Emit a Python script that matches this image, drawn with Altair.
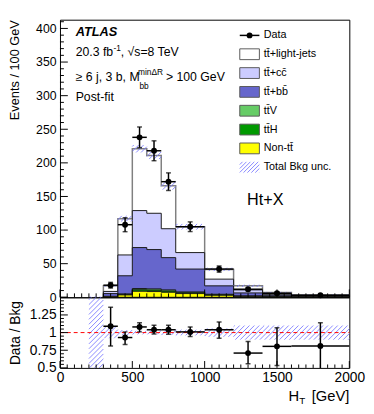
import math
import altair as alt
import pandas as pd

# ---------------- data (Events / 100 GeV) ----------------
bin_lo = [300, 400, 500, 600, 700, 800, 1000, 1200, 1400, 1600]
bin_hi = [400, 500, 600, 700, 800, 1000, 1200, 1400, 1600, 2000]
bin_center = [350, 450, 550, 650, 750, 900, 1100, 1300, 1500, 1800]

nontt   = [1.0, 3.5, 9.0, 8.5, 7.5, 5.5, 3.0, 1.3, 0.6, 0.3]
tth     = [0.2, 0.8, 2.2, 2.2, 1.8, 1.3, 0.8, 0.4, 0.2, 0.07]
ttv     = [0.2, 0.7, 1.8, 1.8, 1.7, 1.2, 0.7, 0.3, 0.2, 0.08]
ttbb    = [4.1, 27.0, 61.0, 58.5, 48.0, 34.0, 12.5, 4.5, 2.0, 0.85]
ttcc    = [3.2, 31.0, 55.0, 54.0, 43.0, 24.5, 10.0, 4.5, 1.5, 1.0]
ttlight = [8.3, 54.0, 92.0, 86.0, 64.0, 38.5, 14.5, 6.0, 2.8, 1.5]

data_val = [18, 108, 238, 218, 172, 105, 42, 12, 6, 3]
data_err = [4.2, 10.4, 15.4, 14.8, 13.1, 7.2, 4.6, 2.4, 1.7, 0.9]

ratio_val = [1.09, 0.93, 1.08, 1.04, 1.04, 1.01, 1.04, 0.71, 0.805, 0.81]
ratio_lo  = [0.81, 0.83, 1.01, 0.98, 0.975, 0.945, 0.92, 0.56, 0.535, 0.45]
ratio_hi  = [1.36, 1.01, 1.14, 1.105, 1.105, 1.08, 1.15, 0.875, 1.07, 1.14]

unc_rel = [0.08, 0.035, 0.025, 0.025, 0.035, 0.04, 0.06, 0.10, 0.10, 0.10]
empty_bin = [200, 300]
empty_bin_unc = 1.2

x_major = [0, 500, 1000, 1500, 2000]
y_up_major = [0, 50, 100, 150, 200, 250, 300, 350, 400]
y_lo_labels = [0.5, 0.75, 1, 1.25]

leg_labels = ["Data", "t\u0074\u0304+light-jets", "t\u0074\u0304+c\u0063\u0304",
              "t\u0074\u0304+b\u0062\u0304", "t\u0074\u0304V", "t\u0074\u0304H",
              "Non-t\u0074\u0304", "Total Bkg unc."]

C_LIGHT, C_CC, C_BB = "#ffffff", "#ccccff", "#6666cc"
C_TTV, C_TTH, C_NON = "#66cc66", "#009900", "#ffff00"
C_HATCH = "#7b7bff"
leg_fill = [None, C_LIGHT, C_CC, C_BB, C_TTV, C_TTH, C_NON, None]

# ---------------- layout ----------------
FONT = "Liberation Sans"
W, H_UP, H_LO = 295, 283, 72
X_MAX = 2000
Y_MAX = 413
R_MIN, R_MAX = 0.5, 1.5
SX = W / X_MAX
SY_UP = H_UP / Y_MAX
SY_LO = H_LO / (R_MAX - R_MIN)

XS = alt.Scale(domain=[0, X_MAX], nice=False, zero=False)
YS_UP = alt.Scale(domain=[0, Y_MAX], nice=False, zero=False)
YS_LO = alt.Scale(domain=[R_MIN, R_MAX], nice=False, zero=False)

LBL = "datum.value + ''"
AX_Y_UP = alt.Axis(values=y_up_major, labelExpr=LBL, title="Events / 100 GeV",
                   titleAnchor="end", titlePadding=13, titleFontSize=13,
                   labelFontSize=12.5, labelPadding=4, minExtent=26, maxExtent=26)
AX_Y_LO = alt.Axis(values=y_lo_labels, labelExpr=LBL, title="Data / Bkg",
                   titleAnchor="middle", titlePadding=12, titleFontSize=14,
                   labelFontSize=14, labelPadding=4, minExtent=26, maxExtent=26)
AX_X_LO = alt.Axis(values=x_major, labelExpr=LBL, title="", labelFlush=False,
                   labelOverlap=False, labelFontSize=14, labelPadding=3)


def Xu(f):
    return alt.X(f, type="quantitative", scale=XS, axis=None)


def Yu(f):
    return alt.Y(f, type="quantitative", scale=YS_UP, axis=AX_Y_UP, stack=None)


def Xl(f):
    return alt.X(f, type="quantitative", scale=XS, axis=AX_X_LO)


def Yl(f):
    return alt.Y(f, type="quantitative", scale=YS_LO, axis=AX_Y_LO, stack=None)


def hatch(rects, sy, ymin, step=5.0):
    rows = []
    for (x0, x1, y0, y1) in rects:
        X0, X1 = x0 * SX, x1 * SX
        Y0, Y1 = (y0 - ymin) * sy, (y1 - ymin) * sy
        kmin = math.ceil((Y0 - X1) / step)
        kmax = math.floor((Y1 - X0) / step)
        for k in range(kmin, kmax + 1):
            c = k * step
            lo = max(X0, Y0 - c)
            hi = min(X1, Y1 - c)
            if hi - lo > 0.2:
                rows.append({"x": lo / SX, "y": (lo + c) / sy + ymin,
                             "x2": hi / SX, "y2": (hi + c) / sy + ymin})
    return pd.DataFrame(rows)


one = pd.DataFrame({"k": [0]})


def label(s, x, y, size, align="left", **kw):
    return alt.Chart(one).mark_text(text=s, font=FONT, fontSize=size, align=align,
                                    baseline="alphabetic", color="black", **kw
                                    ).encode(x=alt.value(x), y=alt.value(y))


# ---------------- upper panel ----------------
up = []
stack = [nontt, tth, ttv, ttbb, ttcc, ttlight]
colors = [C_NON, C_TTH, C_TTV, C_BB, C_CC, C_LIGHT]
cum = []
run = [0.0] * len(bin_lo)
for arr in stack:
    run = [a + b for a, b in zip(run, arr)]
    cum.append(run)
total = cum[-1]

for idx in range(len(stack) - 1, -1, -1):
    tops = cum[idx]
    df = pd.DataFrame({"x": bin_lo + [X_MAX], "y": tops + [tops[-1]]})
    is_top = idx == len(stack) - 1
    up.append(alt.Chart(df).mark_area(
        interpolate="step-after", fill=colors[idx],
        stroke="#808080" if is_top else "#1a1a1a",
        strokeWidth=1.5 if is_top else 1.0, opacity=1
    ).encode(x=Xu("x"), y=Yu("y")))

rects_up = [(empty_bin[0], empty_bin[1], 0, empty_bin_unc)]
for lo, hi, t, u in zip(bin_lo, bin_hi, total, unc_rel):
    rects_up.append((lo, hi, t * (1 - u), t * (1 + u)))
h_up = hatch(rects_up, SY_UP, 0)
up.append(alt.Chart(h_up).mark_rule(color=C_HATCH, strokeWidth=0.9).encode(
    x=Xu("x"), y=Yu("y"), x2="x2", y2="y2"))

pts = pd.DataFrame({"xc": bin_center, "lo": bin_lo, "hi": bin_hi, "v": data_val,
                    "vlo": [v - e for v, e in zip(data_val, data_err)],
                    "vhi": [v + e for v, e in zip(data_val, data_err)]})
caps = pd.DataFrame({"xc": bin_center * 2, "c": list(pts["vlo"]) + list(pts["vhi"])})
up.append(alt.Chart(pts).mark_rule(color="black", strokeWidth=1.5).encode(
    x=Xu("xc"), y=Yu("vlo"), y2="vhi"))
up.append(alt.Chart(pts).mark_rule(color="black", strokeWidth=1.5).encode(
    x=Xu("lo"), x2="hi", y=Yu("v")))
up.append(alt.Chart(caps).mark_tick(orient="horizontal", size=5, thickness=1.5,
                                    color="black").encode(x=Xu("xc"), y=Yu("c")))
up.append(alt.Chart(pts).mark_point(filled=True, size=36, color="black", opacity=1)
          .encode(x=Xu("xc"), y=Yu("v")))

# inward ticks
y_minor_up = [v for v in range(0, 411, 10) if v % 50 != 0]
x_minor = [v for v in range(0, 2001, 50) if v % 500 != 0]
up.append(alt.Chart(pd.DataFrame({"t": y_up_major})).mark_rule(color="black").encode(
    y=Yu("t"), x=alt.value(0), x2=alt.value(8)))
up.append(alt.Chart(pd.DataFrame({"t": y_minor_up})).mark_rule(color="black").encode(
    y=Yu("t"), x=alt.value(0), x2=alt.value(4)))
up.append(alt.Chart(pd.DataFrame({"t": x_major})).mark_rule(color="black").encode(
    x=Xu("t"), y=alt.value(H_UP), y2=alt.value(H_UP - 8)))
up.append(alt.Chart(pd.DataFrame({"t": x_minor})).mark_rule(color="black").encode(
    x=Xu("t"), y=alt.value(H_UP), y2=alt.value(H_UP - 4)))

# annotations
up.append(label("ATLAS", 16, 16.5, 13, fontStyle="italic", fontWeight="bold"))
up.append(label("20.3 fb", 16, 36.5, 12.5))
up.append(label("-1", 54.5, 31.5, 8.5))
up.append(label(", \u221as=8 TeV", 62, 36.5, 12.5))
up.append(label("\u2265 6 j, 3 b, M", 16, 62.5, 12.5))
up.append(label("min\u0394R", 79.5, 56.5, 8.5))
up.append(label("bb", 81, 70.5, 8.5))
up.append(label("> 100 GeV", 108, 62.5, 12.5))
up.append(label("Post-fit", 16, 82.5, 12.5))
up.append(label("Ht+X", 190.7, 188.5, 16.5))

# legend
LX0, LX1, LTX = 183.3, 203.3, 207.7
for i, (txt, fill) in enumerate(zip(leg_labels, leg_fill)):
    yc = 16 + 19.2 * i
    up.append(alt.Chart(one).mark_text(text=txt, font=FONT, fontSize=11, align="left",
                                       baseline="middle", color="black")
              .encode(x=alt.value(LTX), y=alt.value(yc)))
    if fill is not None:
        up.append(alt.Chart(one).mark_rect(fill=fill, stroke="#5a5a5a", strokeWidth=1)
                  .encode(x=alt.value(LX0), x2=alt.value(LX1),
                          y=alt.value(yc - 5.5), y2=alt.value(yc + 5.5)))
    elif i == 0:
        up.append(alt.Chart(one).mark_rule(color="black", strokeWidth=1.5)
                  .encode(x=alt.value(LX0), x2=alt.value(LX1), y=alt.value(yc)))
        up.append(alt.Chart(one).mark_point(filled=True, size=36, color="black", opacity=1)
                  .encode(x=alt.value((LX0 + LX1) / 2), y=alt.value(yc)))
    else:
        box = [(LX0 / SX, LX1 / SX, (H_UP - yc - 5.5) / SY_UP, (H_UP - yc + 5.5) / SY_UP)]
        up.append(alt.Chart(hatch(box, SY_UP, 0, step=4.0)).mark_rule(
            color=C_HATCH, strokeWidth=0.9).encode(x=Xu("x"), y=Yu("y"), x2="x2", y2="y2"))

upper = alt.layer(*up).properties(width=W, height=H_UP)

# ---------------- lower panel ----------------
lo_l = []
rects_lo = [(empty_bin[0], empty_bin[1], R_MIN, R_MAX)]
for lo, hi, u in zip(bin_lo, bin_hi, unc_rel):
    rects_lo.append((lo, hi, 1 - u, 1 + u))
lo_l.append(alt.Chart(hatch(rects_lo, SY_LO, R_MIN)).mark_rule(
    color=C_HATCH, strokeWidth=0.9).encode(x=Xl("x"), y=Yl("y"), x2="x2", y2="y2"))
lo_l.append(alt.Chart(pd.DataFrame({"x": [0], "x2": [X_MAX], "y": [1]})).mark_rule(
    color="#ff0000", strokeDash=[4, 3], strokeWidth=1).encode(x=Xl("x"), x2="x2", y=Yl("y")))

rp = pd.DataFrame({"xc": bin_center, "lo": bin_lo, "hi": bin_hi, "v": ratio_val,
                   "vlo": ratio_lo, "vhi": ratio_hi})
rcaps = pd.DataFrame({"xc": bin_center * 2, "c": ratio_lo + ratio_hi})
lo_l.append(alt.Chart(rp).mark_rule(color="black", strokeWidth=1.5, clip=True).encode(
    x=Xl("xc"), y=Yl("vlo"), y2="vhi"))
lo_l.append(alt.Chart(rp).mark_rule(color="black", strokeWidth=1.5).encode(
    x=Xl("lo"), x2="hi", y=Yl("v")))
lo_l.append(alt.Chart(rcaps).mark_tick(orient="horizontal", size=5, thickness=1.5,
                                       color="black", clip=True).encode(x=Xl("xc"), y=Yl("c")))
lo_l.append(alt.Chart(rp).mark_point(filled=True, size=36, color="black", opacity=1)
            .encode(x=Xl("xc"), y=Yl("v")))

y_lo_major = [0.5, 0.75, 1.0, 1.25, 1.5]
y_lo_minor = [round(0.5 + 0.05 * k, 2) for k in range(21) if k % 5 != 0]
lo_l.append(alt.Chart(pd.DataFrame({"t": y_lo_major})).mark_rule(color="black").encode(
    y=Yl("t"), x=alt.value(0), x2=alt.value(8)))
lo_l.append(alt.Chart(pd.DataFrame({"t": y_lo_minor})).mark_rule(color="black").encode(
    y=Yl("t"), x=alt.value(0), x2=alt.value(4)))
lo_l.append(alt.Chart(pd.DataFrame({"t": x_major})).mark_rule(color="black").encode(
    x=Xl("t"), y=alt.value(H_LO), y2=alt.value(H_LO - 7)))
lo_l.append(alt.Chart(pd.DataFrame({"t": x_minor})).mark_rule(color="black").encode(
    x=Xl("t"), y=alt.value(H_LO), y2=alt.value(H_LO - 3.5)))

lo_l.append(label("H", 233, 105.5, 15))
lo_l.append(label("T", 244, 109, 10))
lo_l.append(label("[GeV]", 295, 105.5, 15, align="right"))

lower = alt.layer(*lo_l).properties(width=W, height=H_LO)

chart = alt.vconcat(upper, lower, spacing=0, bounds="flush").properties(
    padding={"left": 0, "top": 7, "right": 0, "bottom": 0}
).configure_view(stroke="black", strokeWidth=1).configure_axis(
    labelFont=FONT, titleFont=FONT, labelColor="black", titleColor="black",
    grid=False, domain=False, ticks=False, tickSize=0, titleFontWeight="normal"
)

chart.save("out.html", embed_options={"renderer": "svg", "actions": False})
